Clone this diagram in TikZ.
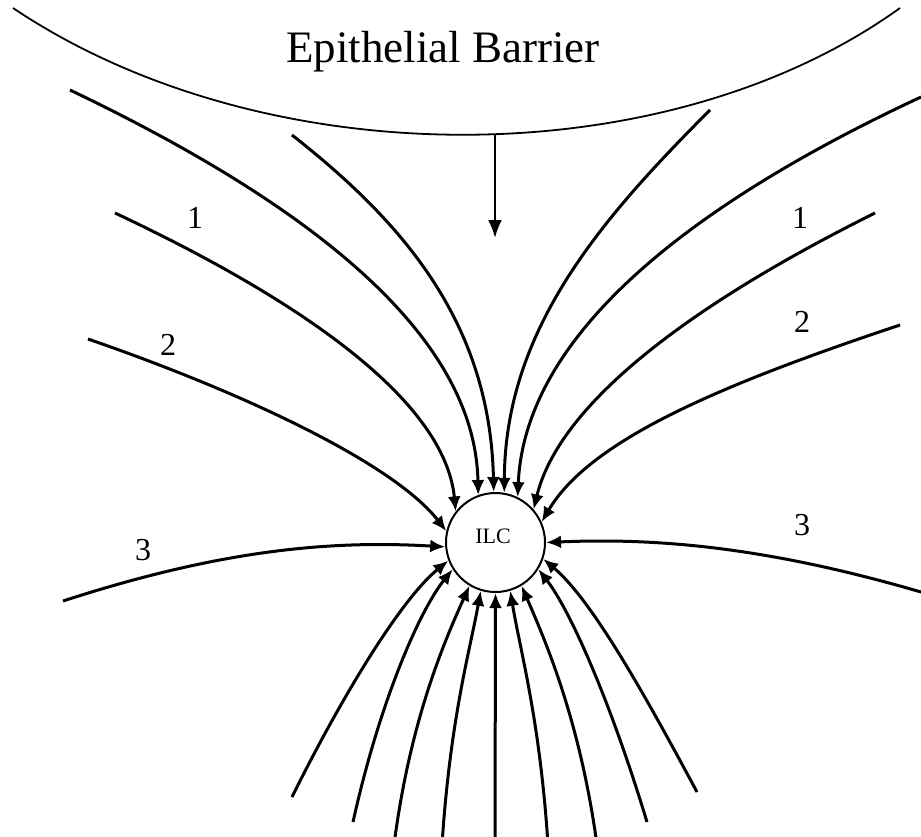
\documentclass[tikz,border=0pt]{standalone}
\usepackage{fontspec}
\setmainfont{Liberation Serif}
\usetikzlibrary{arrows.meta}
\begin{document}
\begin{tikzpicture}[x=1pt,y=-1pt,
  flow/.style={line width=3pt,-{Latex[length=15pt,width=13pt]}},
  barrier/.style={line width=1.8pt},
  lbl/.style={font=\fontsize{32}{32}\selectfont, inner sep=0pt}]
\useasboundingbox (0,0) rectangle (921,836);
% barrier
\draw[barrier] (13,8) .. controls (265,177) and (665,177) .. (900,8);
\node[font=\fontsize{45}{45}\selectfont, anchor=base, inner sep=0pt] (title) at (443,62) {Epithelial Barrier};
\coordinate (bar) at (495,134);
\coordinate (bartip) at (495,238);
\draw[line width=2.2pt,-{Latex[length=18pt,width=14pt]}] (bar) -- (bartip);
% ILC
\node[circle, draw, line width=2pt, minimum size=99pt, inner sep=0pt] (ilc) at (495.5,542.5) {};
\node[font=\fontsize{22}{22}\selectfont, inner sep=0pt] (ilct) at (493,536) {ILC};
% start points
\coordinate (sL3) at (63,601);
\coordinate (sL2) at (88,339);
\coordinate (sL1) at (115,213);
\coordinate (sA) at (70,90);
\coordinate (sB) at (292,135);
\coordinate (sC) at (710,110);
\coordinate (sD) at (921,97);
\coordinate (sR1) at (875,213);
\coordinate (sR2) at (900,325);
\coordinate (sR3) at (921,592);
% upper flows
\draw[flow] (sL3) .. controls (220,550) and (330,540) .. (ilc.185);
\draw[flow] (sL2) .. controls (250,395) and (395,465) .. (ilc.167);
\draw[flow] (sL1) .. controls (300,300) and (445,400) .. (ilc.142);
\draw[flow] (sA) .. controls (300,200) and (475,330) .. (ilc.110);
\draw[flow] (sB) .. controls (400,220) and (490,320) .. (ilc.92);
\draw[flow] (sC) .. controls (600,220) and (505,330) .. (ilc.80);
\draw[flow] (sD) .. controls (700,200) and (525,330) .. (ilc.64);
\draw[flow] (sR1) .. controls (700,300) and (560,400) .. (ilc.41);
\draw[flow] (sR2) .. controls (720,385) and (590,440) .. (ilc.24);
\draw[flow] (sR3) .. controls (760,545) and (650,538) .. (ilc.0);
% bottom start points
\coordinate (b1) at (292,797);
\coordinate (b2) at (353,822);
\coordinate (b3) at (394,845);
\coordinate (b4) at (442,845);
\coordinate (b5) at (495,845);
\coordinate (b6) at (548,845);
\coordinate (b7) at (597,845);
\coordinate (b8) at (647,822);
\coordinate (b9) at (697,792);
\draw[flow] (b1) .. controls (340,700) and (400,600) .. (ilc.201);
\draw[flow] (b2) .. controls (380,700) and (420,610) .. (ilc.212);
\draw[flow] (b3) .. controls (410,720) and (445,640) .. (ilc.239);
\draw[flow] (b4) .. controls (450,720) and (470,650) .. (ilc.253);
\draw[flow] (b5) -- (ilc.270);
\draw[flow] (b6) .. controls (540,720) and (520,650) .. (ilc.287);
\draw[flow] (b7) .. controls (580,720) and (545,640) .. (ilc.301);
\draw[flow] (b8) .. controls (610,700) and (570,610) .. (ilc.328);
\draw[flow] (b9) .. controls (645,695) and (592,600) .. (ilc.341);
% labels
\node[lbl] (n1l) at (195,218) {1};
\node[lbl] (n2l) at (168,345) {2};
\node[lbl] (n3l) at (143,550) {3};
\node[lbl] (n1r) at (800,218) {1};
\node[lbl] (n2r) at (802,322) {2};
\node[lbl] (n3r) at (802,525) {3};
\end{tikzpicture}
\end{document}
